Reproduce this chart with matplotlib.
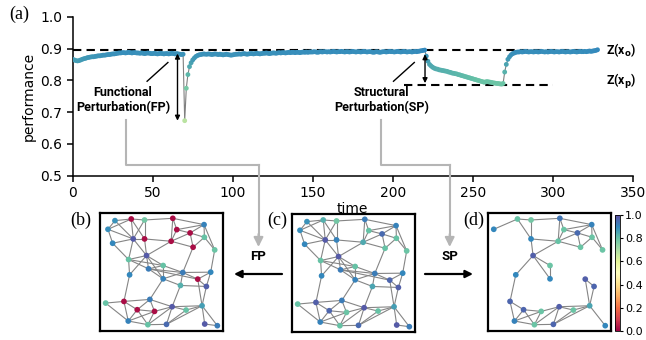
import matplotlib
matplotlib.use("Agg")
import matplotlib.pyplot as plt
import numpy as np
from matplotlib.collections import LineCollection

# performance over time (one value per time step, t = 0..328)
performance = [
    0.866, 0.864, 0.862, 0.861, 0.862, 0.864, 0.866, 0.868, 0.869, 0.871,
    0.872, 0.873, 0.874, 0.874, 0.875, 0.876, 0.877, 0.877, 0.878, 0.879,
    0.879, 0.880, 0.881, 0.881, 0.882, 0.883, 0.883, 0.884, 0.885, 0.886,
    0.886, 0.887, 0.887, 0.886, 0.887, 0.888, 0.887, 0.886, 0.887, 0.887,
    0.886, 0.886, 0.885, 0.886, 0.885, 0.884, 0.885, 0.886, 0.885, 0.884,
    0.884, 0.885, 0.884, 0.883, 0.884, 0.885, 0.884, 0.883, 0.884, 0.884,
    0.883, 0.884, 0.885, 0.884, 0.883, 0.884, 0.883, 0.882, 0.881, 0.882,
    0.673, 0.775, 0.818, 0.843, 0.855, 0.864, 0.870, 0.875, 0.878, 0.880,
    0.881, 0.882, 0.883, 0.882, 0.882, 0.883, 0.882, 0.881, 0.882, 0.883,
    0.882, 0.881, 0.882, 0.881, 0.880, 0.881, 0.882, 0.881, 0.880, 0.879,
    0.880, 0.881, 0.882, 0.882, 0.883, 0.882, 0.883, 0.884, 0.883, 0.882,
    0.883, 0.884, 0.884, 0.883, 0.884, 0.885, 0.884, 0.883, 0.884, 0.885,
    0.885, 0.886, 0.885, 0.884, 0.885, 0.886, 0.886, 0.885, 0.886, 0.887,
    0.886, 0.887, 0.887, 0.886, 0.887, 0.888, 0.887, 0.888, 0.888, 0.887,
    0.888, 0.888, 0.887, 0.888, 0.889, 0.888, 0.889, 0.888, 0.889, 0.889,
    0.889, 0.890, 0.889, 0.888, 0.889, 0.890, 0.889, 0.890, 0.890, 0.889,
    0.890, 0.889, 0.890, 0.891, 0.890, 0.889, 0.890, 0.890, 0.891, 0.890,
    0.889, 0.890, 0.890, 0.889, 0.890, 0.891, 0.890, 0.889, 0.890, 0.890,
    0.889, 0.890, 0.891, 0.890, 0.889, 0.890, 0.890, 0.889, 0.888, 0.889,
    0.890, 0.889, 0.888, 0.889, 0.890, 0.890, 0.889, 0.890, 0.891, 0.890,
    0.890, 0.889, 0.890, 0.891, 0.890, 0.889, 0.890, 0.891, 0.890, 0.889,
    0.890, 0.890, 0.889, 0.890, 0.891, 0.890, 0.891, 0.892, 0.893, 0.894,
    0.895, 0.876, 0.860, 0.850, 0.845, 0.841, 0.838, 0.836, 0.835, 0.833,
    0.832, 0.831, 0.830, 0.829, 0.828, 0.826, 0.825, 0.823, 0.822, 0.821,
    0.820, 0.818, 0.817, 0.815, 0.814, 0.812, 0.811, 0.809, 0.808, 0.806,
    0.805, 0.803, 0.802, 0.800, 0.799, 0.797, 0.796, 0.794, 0.795, 0.796,
    0.795, 0.794, 0.793, 0.792, 0.791, 0.790, 0.790, 0.789, 0.788, 0.790,
    0.826, 0.850, 0.866, 0.874, 0.880, 0.884, 0.886, 0.888, 0.889, 0.889,
    0.890, 0.889, 0.890, 0.891, 0.890, 0.889, 0.890, 0.890, 0.889, 0.890,
    0.890, 0.889, 0.890, 0.891, 0.890, 0.889, 0.890, 0.889, 0.890, 0.891,
    0.890, 0.889, 0.890, 0.890, 0.889, 0.890, 0.891, 0.890, 0.889, 0.890,
    0.890, 0.889, 0.890, 0.891, 0.890, 0.889, 0.890, 0.891, 0.890, 0.890,
    0.891, 0.890, 0.891, 0.892, 0.891, 0.892, 0.893, 0.894, 0.896,
]
time = np.arange(len(performance))

z_orig = 0.895
z_pert = 0.785
fp_time = 65.5
sp_time = 220.2

# network layout (node id -> position), shared by panels b, c, d
node_ids = list(range(1, 40))
node_x = [63, 112, 152, 237, 42, 118, 152, 56, 249, 289, 331, 332, 232, 298, 363,
          158, 104, 164, 208, 107, 208, 267, 312, 351, 260, 338, 35, 90, 168, 130,
          182, 235, 277, 325, 103, 162, 218, 333, 371]
node_y = [40, 35, 38, 33, 66, 95, 95, 108, 67, 77, 52, 90, 102, 120, 128,
          145, 157, 185, 175, 203, 215, 196, 216, 195, 235, 238, 288, 283, 277, 308,
          313, 299, 309, 296, 342, 353, 352, 351, 356]

edges = [
    (1, 2), (1, 5), (1, 6), (2, 5), (2, 3), (2, 6), (2, 7), (3, 6), (3, 7), (3, 4),
    (5, 8), (5, 6), (6, 7), (6, 8), (6, 16), (6, 17), (8, 17), (7, 13), (7, 16),
    (4, 13), (4, 9), (4, 11), (9, 10), (9, 11), (9, 13), (10, 11), (10, 12), (10, 13),
    (10, 14), (11, 12), (11, 15), (12, 14), (12, 15), (13, 14), (14, 22), (15, 24), (13, 16),
    (16, 17), (16, 18), (16, 19), (16, 20), (16, 21), (17, 18), (17, 20), (17, 19),
    (18, 19), (18, 21), (18, 22), (19, 21), (19, 22), (18, 23), (21, 22), (21, 25),
    (22, 23), (22, 24), (22, 25), (23, 24), (23, 26), (24, 26), (25, 26), (25, 32),
    (21, 29), (20, 28), (27, 28), (27, 35), (28, 29), (28, 30), (28, 35), (29, 30),
    (29, 31), (29, 32), (30, 31), (30, 35), (30, 36), (31, 35), (31, 36), (31, 32),
    (32, 36), (32, 37), (32, 33), (32, 34), (33, 34), (33, 37), (34, 37), (34, 38),
    (34, 39), (26, 34), (23, 34), (38, 39), (36, 37), (35, 36),
]

# node performance, panel c (original network)
vals_c = [0.88, 0.83, 0.78, 0.92, 0.89, 0.98, 0.91, 0.90, 0.80, 0.95, 0.91, 0.80, 0.84,
          0.80, 0.79, 0.98, 0.80, 0.92, 0.80, 0.90, 0.91, 0.92, 0.96, 0.90, 0.85, 0.97,
          0.80, 0.97, 0.92, 0.96, 0.79, 0.98, 0.80, 0.86, 0.91, 0.80, 0.95, 0.98, 0.92]
# panel b (functional perturbation): some nodes knocked to ~0
vals_b = [0.88, 0.02, 0.78, 0.02, 0.89, 0.98, 0.02, 0.90, 0.02, 0.02, 0.91, 0.80, 0.02,
          0.02, 0.79, 0.98, 0.80, 0.92, 0.80, 0.90, 0.91, 0.92, 0.02, 0.90, 0.83, 0.97,
          0.80, 0.02, 0.92, 0.02, 0.02, 0.98, 0.80, 0.86, 0.91, 0.80, 0.95, 0.98, 0.92]
# panel d (structural perturbation): surviving nodes
ids_d = [2, 3, 4, 5, 7, 9, 10, 11, 12, 13, 14, 15, 16, 19, 20, 21, 23, 26,
         28, 30, 31, 32, 33, 34, 35, 36, 37, 39]
vals_d = [0.80, 0.78, 0.93, 0.90, 0.90, 0.79, 0.95, 0.91, 0.79, 0.80, 0.79, 0.79, 0.97,
          0.79, 0.90, 0.90, 0.97, 0.96, 0.96, 0.96, 0.79, 0.97, 0.79, 0.85, 0.91, 0.79,
          0.96, 0.90]

cmap = plt.get_cmap("Spectral")
W, H = 646, 340


def fig_box(x0, y0, x1, y1):
    # pixel box (top-left origin) -> figure fraction rect
    return [x0 / W, 1 - y1 / H, (x1 - x0) / W, (y1 - y0) / H]


def draw_network(ax, ids, vals):
    pos = {n: (x, y) for n, x, y in zip(node_ids, node_x, node_y)}
    keep = set(ids)
    segs = [[pos[a], pos[b]] for a, b in edges if a in keep and b in keep]
    ax.add_collection(LineCollection(segs, colors="#858585", linewidths=0.8, zorder=1))
    xs = [pos[n][0] for n in ids]
    ys = [pos[n][1] for n in ids]
    ax.scatter(xs, ys, c=vals, cmap=cmap, vmin=0, vmax=1, s=17, linewidths=0, zorder=2)
    ax.set_xlim(min(xs) - 17, max(xs) + 17)
    ax.set_ylim(max(ys) + 16, min(ys) - 16)
    ax.set_xticks([])
    ax.set_yticks([])
    for sp in ax.spines.values():
        sp.set_linewidth(1.6)


fig = plt.figure(figsize=(W / 100, H / 100), dpi=100)

# ---- panel (a): performance curve
ax = fig.add_axes(fig_box(72.7, 16.7, 632.7, 175.7))
ax.plot(time, performance, color="#808080", lw=0.8, zorder=2)
ax.scatter(time, performance, c=performance, cmap=cmap, vmin=0, vmax=1,
           s=12, linewidths=0, zorder=3)
ax.hlines(z_orig, 0, 327, colors="black", linestyles=(0, (4, 2.5)), lw=1.5, zorder=1)
ax.hlines(z_pert, 207, 300, colors="black", linestyles=(0, (4, 2.5)), lw=1.5, zorder=1)
ax.annotate("", xy=(fp_time, 0.673), xytext=(fp_time, 0.884),
            arrowprops=dict(arrowstyle="<|-|>", color="black", lw=1.0,
                            mutation_scale=7, shrinkA=0, shrinkB=0))
ax.annotate("", xy=(sp_time, 0.791), xytext=(sp_time, 0.882),
            arrowprops=dict(arrowstyle="<|-|>", color="black", lw=1.0,
                            mutation_scale=7, shrinkA=0, shrinkB=0))
ax.plot([46.5, 59.5], [0.797, 0.856], color="black", lw=1.0)
ax.plot([200.5, 213.5], [0.797, 0.856], color="black", lw=1.0)
ax.text(31.5, 0.737, "Functional\nPerturbation(FP)", ha="center", va="center",
        fontsize=9, fontweight="bold", family="Roboto", linespacing=1.15)
ax.text(193, 0.737, "Structural\nPerturbation(SP)", ha="center", va="center",
        fontsize=9, fontweight="bold", family="Roboto", linespacing=1.15)
ax.text(333, z_orig, r"Z(x$_\mathbf{o}$)", ha="left", va="center",
        fontsize=8.8, fontweight="bold", family="Roboto")
ax.text(333, z_pert + 0.01, r"Z(x$_\mathbf{p}$)", ha="left", va="center",
        fontsize=8.8, fontweight="bold", family="Roboto")

ax.set_xlim(0, 350)
ax.set_ylim(0.5, 1.0)
ax.set_xticks(np.arange(0, 351, 50))
ax.set_yticks(np.arange(0.5, 1.01, 0.1))
ax.set_yticklabels([f"{v:.1f}" for v in np.arange(0.5, 1.01, 0.1)])
ax.spines["top"].set_visible(False)
ax.spines["right"].set_visible(False)
ax.spines["left"].set_linewidth(1.1)
ax.spines["bottom"].set_linewidth(1.1)
ax.tick_params(labelsize=10, width=1.1, length=4)
ax.set_xlabel("time", fontsize=10, labelpad=1)
ax.set_ylabel("performance", fontsize=10, labelpad=3)

# ---- network panels
ax_b = fig.add_axes(fig_box(100, 213, 223, 331))
draw_network(ax_b, node_ids, vals_b)
ax_c = fig.add_axes(fig_box(292, 214, 415, 332))
draw_network(ax_c, node_ids, vals_c)
ax_d = fig.add_axes(fig_box(488, 213, 611, 331))
draw_network(ax_d, ids_d, vals_d)

cax = fig.add_axes(fig_box(615, 215, 620, 331))
sm = plt.cm.ScalarMappable(cmap=cmap, norm=plt.Normalize(0, 1))
cb = fig.colorbar(sm, cax=cax, ticks=np.arange(0, 1.01, 0.2))
cb.ax.set_yticklabels([f"{v:.1f}" for v in np.arange(0, 1.01, 0.2)])
cb.ax.tick_params(labelsize=8, length=2.5, width=0.8, pad=1)
cb.outline.set_linewidth(0.6)

# ---- panel letters
for lbl, px, py in [("(a)", 19, 14), ("(b)", 81, 220), ("(c)", 277, 220), ("(d)", 474, 220)]:
    fig.text(px / W, 1 - py / H, lbl, ha="center", va="center",
             fontsize=13, family="Liberation Serif")

# ---- gray connectors from curve to network panels
gray = "#b5b5b5"
for x0, x1 in [(125.7, 258.5), (380.7, 449.7)]:
    fig.add_artist(plt.Line2D([x0 / W, x0 / W, x1 / W], [1 - 120 / H, 1 - 165 / H, 1 - 165 / H],
                              color=gray, lw=1.5))
    fig.add_artist(plt.Line2D([x1 / W, x1 / W], [1 - 165 / H, 1 - 236 / H], color=gray, lw=1.5))
    plt.annotate("", xy=(x1 / W, 1 - 247 / H), xytext=(x1 / W, 1 - 234 / H),
                 xycoords="figure fraction", textcoords="figure fraction",
                 arrowprops=dict(arrowstyle="-|>", color=gray, lw=1.5,
                                 mutation_scale=14, shrinkA=0, shrinkB=0))

# ---- FP / SP arrows between panels
fig.text(258 / W, 1 - 257 / H, "FP", ha="center", va="center", fontsize=9.5,
         fontweight="bold", family="Roboto")
fig.text(450 / W, 1 - 257 / H, "SP", ha="center", va="center", fontsize=9.5,
         fontweight="bold", family="Roboto")
plt.annotate("", xy=(234 / W, 1 - 274 / H), xytext=(282 / W, 1 - 274 / H),
             xycoords="figure fraction", textcoords="figure fraction",
             arrowprops=dict(arrowstyle="-|>", color="black", lw=1.6,
                             mutation_scale=11, shrinkA=0, shrinkB=0))
plt.annotate("", xy=(473 / W, 1 - 274 / H), xytext=(425 / W, 1 - 274 / H),
             xycoords="figure fraction", textcoords="figure fraction",
             arrowprops=dict(arrowstyle="-|>", color="black", lw=1.6,
                             mutation_scale=11, shrinkA=0, shrinkB=0))

fig.savefig("out.png", dpi=100)
